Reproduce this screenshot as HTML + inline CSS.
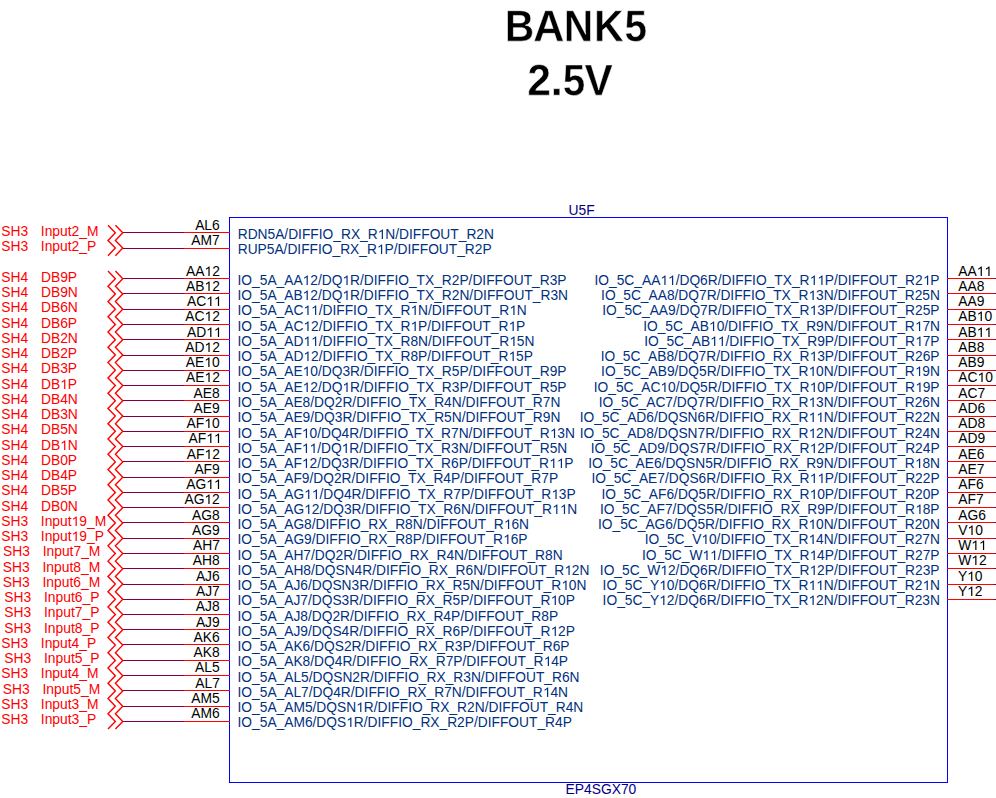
<!DOCTYPE html><html><head><meta charset="utf-8"><title>BANK5</title><style>html,body{margin:0;padding:0;background:#fff}svg{display:block}text{font-family:"Liberation Sans",sans-serif;white-space:pre;font-kerning:none;font-feature-settings:"kern" 0}</style></head><body>
<svg width="996" height="798" viewBox="0 0 996 798">
<g fill="#000" stroke="#fff" stroke-width="0.6"><path vector-effect="non-scaling-stroke" transform="translate(504.769,41.150) scale(0.019936,-0.021611)" d="M1386 402Q1386 210 1242.0 105.0Q1098 0 842 0H137V1409H782Q1040 1409 1172.5 1319.5Q1305 1230 1305 1055Q1305 935 1238.5 852.5Q1172 770 1036 741Q1207 721 1296.5 633.5Q1386 546 1386 402ZM1008 1015Q1008 1110 947.5 1150.0Q887 1190 768 1190H432V841H770Q895 841 951.5 884.5Q1008 928 1008 1015ZM1090 425Q1090 623 806 623H432V219H817Q959 219 1024.5 270.5Q1090 322 1090 425Z"/><path vector-effect="non-scaling-stroke" transform="translate(533.120,41.150) scale(0.021179,-0.021611)" d="M1133 0 1008 360H471L346 0H51L565 1409H913L1425 0ZM739 1192 733 1170Q723 1134 709.0 1088.0Q695 1042 537 582H942L803 987L760 1123Z"/><path vector-effect="non-scaling-stroke" transform="translate(563.769,41.150) scale(0.019934,-0.021611)" d="M995 0 381 1085Q399 927 399 831V0H137V1409H474L1097 315Q1079 466 1079 590V1409H1341V0Z"/><path vector-effect="non-scaling-stroke" transform="translate(593.946,41.150) scale(0.020106,-0.021611)" d="M1112 0 606 647 432 514V0H137V1409H432V770L1067 1409H1411L809 813L1460 0Z"/><path vector-effect="non-scaling-stroke" transform="translate(624.451,41.150) scale(0.019823,-0.021611)" d="M1082 469Q1082 245 942.5 112.5Q803 -20 560 -20Q348 -20 220.5 75.5Q93 171 63 352L344 375Q366 285 422.0 244.0Q478 203 563 203Q668 203 730.5 270.0Q793 337 793 463Q793 574 734.0 640.5Q675 707 569 707Q452 707 378 616H104L153 1409H1000V1200H408L385 844Q487 934 640 934Q841 934 961.5 809.0Q1082 684 1082 469Z"/></g>
<g fill="#000" stroke="#fff" stroke-width="0.6"><path vector-effect="non-scaling-stroke" transform="translate(527.267,95.200) scale(0.020892,-0.021469)" d="M71 0V195Q126 316 227.5 431.0Q329 546 483 671Q631 791 690.5 869.0Q750 947 750 1022Q750 1206 565 1206Q475 1206 427.5 1157.5Q380 1109 366 1012L83 1028Q107 1224 229.5 1327.0Q352 1430 563 1430Q791 1430 913.0 1326.0Q1035 1222 1035 1034Q1035 935 996.0 855.0Q957 775 896.0 707.5Q835 640 760.5 581.0Q686 522 616.0 466.0Q546 410 488.5 353.0Q431 296 403 231H1057V0Z"/><path vector-effect="non-scaling-stroke" transform="translate(550.470,95.200) scale(0.021799,-0.021469)" d="M139 0V305H428V0Z"/><path vector-effect="non-scaling-stroke" transform="translate(562.757,95.200) scale(0.019725,-0.021469)" d="M1082 469Q1082 245 942.5 112.5Q803 -20 560 -20Q348 -20 220.5 75.5Q93 171 63 352L344 375Q366 285 422.0 244.0Q478 203 563 203Q668 203 730.5 270.0Q793 337 793 463Q793 574 734.0 640.5Q675 707 569 707Q452 707 378 616H104L153 1409H1000V1200H408L385 844Q487 934 640 934Q841 934 961.5 809.0Q1082 684 1082 469Z"/><path vector-effect="non-scaling-stroke" transform="translate(584.510,95.200) scale(0.020703,-0.021469)" d="M834 0H535L14 1409H322L612 504Q639 416 686 238L707 324L758 504L1047 1409H1352Z"/></g>
<text x="568.5" y="214.8" font-size="13.85" fill="#000080">U5F</text>
<text x="565.5" y="793.9" font-size="13.85" fill="#000080">EP4SGX70</text>
<g shape-rendering="crispEdges"><rect x="229" y="217" width="719" height="1" fill="#0000ff"/><rect x="229" y="782" width="719" height="1" fill="#0000ff"/><rect x="229" y="217" width="1" height="566" fill="#0000ff"/><rect x="947" y="217" width="1" height="566" fill="#0000ff"/><rect x="123" y="232" width="61" height="1" fill="#800040"/><rect x="184" y="232" width="46" height="1" fill="#ff0000"/><rect x="123" y="248" width="61" height="1" fill="#800040"/><rect x="184" y="248" width="46" height="1" fill="#ff0000"/><rect x="123" y="278" width="61" height="1" fill="#800040"/><rect x="184" y="278" width="46" height="1" fill="#ff0000"/><rect x="123" y="293" width="61" height="1" fill="#800040"/><rect x="184" y="293" width="46" height="1" fill="#ff0000"/><rect x="123" y="309" width="61" height="1" fill="#800040"/><rect x="184" y="309" width="46" height="1" fill="#ff0000"/><rect x="123" y="324" width="61" height="1" fill="#800040"/><rect x="184" y="324" width="46" height="1" fill="#ff0000"/><rect x="123" y="339" width="61" height="1" fill="#800040"/><rect x="184" y="339" width="46" height="1" fill="#ff0000"/><rect x="123" y="355" width="61" height="1" fill="#800040"/><rect x="184" y="355" width="46" height="1" fill="#ff0000"/><rect x="123" y="370" width="61" height="1" fill="#800040"/><rect x="184" y="370" width="46" height="1" fill="#ff0000"/><rect x="123" y="385" width="61" height="1" fill="#800040"/><rect x="184" y="385" width="46" height="1" fill="#ff0000"/><rect x="123" y="400" width="61" height="1" fill="#800040"/><rect x="184" y="400" width="46" height="1" fill="#ff0000"/><rect x="123" y="416" width="61" height="1" fill="#800040"/><rect x="184" y="416" width="46" height="1" fill="#ff0000"/><rect x="123" y="431" width="61" height="1" fill="#800040"/><rect x="184" y="431" width="46" height="1" fill="#ff0000"/><rect x="123" y="446" width="61" height="1" fill="#800040"/><rect x="184" y="446" width="46" height="1" fill="#ff0000"/><rect x="123" y="461" width="61" height="1" fill="#800040"/><rect x="184" y="461" width="46" height="1" fill="#ff0000"/><rect x="123" y="477" width="61" height="1" fill="#800040"/><rect x="184" y="477" width="46" height="1" fill="#ff0000"/><rect x="123" y="492" width="61" height="1" fill="#800040"/><rect x="184" y="492" width="46" height="1" fill="#ff0000"/><rect x="123" y="507" width="61" height="1" fill="#800040"/><rect x="184" y="507" width="46" height="1" fill="#ff0000"/><rect x="123" y="522" width="61" height="1" fill="#800040"/><rect x="184" y="522" width="46" height="1" fill="#ff0000"/><rect x="123" y="538" width="61" height="1" fill="#800040"/><rect x="184" y="538" width="46" height="1" fill="#ff0000"/><rect x="123" y="553" width="61" height="1" fill="#800040"/><rect x="184" y="553" width="46" height="1" fill="#ff0000"/><rect x="123" y="568" width="61" height="1" fill="#800040"/><rect x="184" y="568" width="46" height="1" fill="#ff0000"/><rect x="123" y="584" width="61" height="1" fill="#800040"/><rect x="184" y="584" width="46" height="1" fill="#ff0000"/><rect x="123" y="599" width="61" height="1" fill="#800040"/><rect x="184" y="599" width="46" height="1" fill="#ff0000"/><rect x="123" y="614" width="61" height="1" fill="#800040"/><rect x="184" y="614" width="46" height="1" fill="#ff0000"/><rect x="123" y="629" width="61" height="1" fill="#800040"/><rect x="184" y="629" width="46" height="1" fill="#ff0000"/><rect x="123" y="644" width="61" height="1" fill="#800040"/><rect x="184" y="644" width="46" height="1" fill="#ff0000"/><rect x="123" y="660" width="61" height="1" fill="#800040"/><rect x="184" y="660" width="46" height="1" fill="#ff0000"/><rect x="123" y="675" width="61" height="1" fill="#800040"/><rect x="184" y="675" width="46" height="1" fill="#ff0000"/><rect x="123" y="690" width="61" height="1" fill="#800040"/><rect x="184" y="690" width="46" height="1" fill="#ff0000"/><rect x="123" y="706" width="61" height="1" fill="#800040"/><rect x="184" y="706" width="46" height="1" fill="#ff0000"/><rect x="123" y="721" width="61" height="1" fill="#800040"/><rect x="184" y="721" width="46" height="1" fill="#ff0000"/><rect x="947" y="278" width="47" height="1" fill="#ff0000"/><rect x="994" y="278" width="2" height="1" fill="#800040"/><rect x="947" y="293" width="47" height="1" fill="#ff0000"/><rect x="994" y="293" width="2" height="1" fill="#800040"/><rect x="947" y="309" width="47" height="1" fill="#ff0000"/><rect x="994" y="309" width="2" height="1" fill="#800040"/><rect x="947" y="324" width="47" height="1" fill="#ff0000"/><rect x="994" y="324" width="2" height="1" fill="#800040"/><rect x="947" y="339" width="47" height="1" fill="#ff0000"/><rect x="994" y="339" width="2" height="1" fill="#800040"/><rect x="947" y="355" width="47" height="1" fill="#ff0000"/><rect x="994" y="355" width="2" height="1" fill="#800040"/><rect x="947" y="370" width="47" height="1" fill="#ff0000"/><rect x="994" y="370" width="2" height="1" fill="#800040"/><rect x="947" y="385" width="47" height="1" fill="#ff0000"/><rect x="994" y="385" width="2" height="1" fill="#800040"/><rect x="947" y="400" width="47" height="1" fill="#ff0000"/><rect x="994" y="400" width="2" height="1" fill="#800040"/><rect x="947" y="416" width="47" height="1" fill="#ff0000"/><rect x="994" y="416" width="2" height="1" fill="#800040"/><rect x="947" y="431" width="47" height="1" fill="#ff0000"/><rect x="994" y="431" width="2" height="1" fill="#800040"/><rect x="947" y="446" width="47" height="1" fill="#ff0000"/><rect x="994" y="446" width="2" height="1" fill="#800040"/><rect x="947" y="461" width="47" height="1" fill="#ff0000"/><rect x="994" y="461" width="2" height="1" fill="#800040"/><rect x="947" y="477" width="47" height="1" fill="#ff0000"/><rect x="994" y="477" width="2" height="1" fill="#800040"/><rect x="947" y="492" width="47" height="1" fill="#ff0000"/><rect x="994" y="492" width="2" height="1" fill="#800040"/><rect x="947" y="507" width="47" height="1" fill="#ff0000"/><rect x="994" y="507" width="2" height="1" fill="#800040"/><rect x="947" y="522" width="47" height="1" fill="#ff0000"/><rect x="994" y="522" width="2" height="1" fill="#800040"/><rect x="947" y="538" width="47" height="1" fill="#ff0000"/><rect x="994" y="538" width="2" height="1" fill="#800040"/><rect x="947" y="553" width="47" height="1" fill="#ff0000"/><rect x="994" y="553" width="2" height="1" fill="#800040"/><rect x="947" y="568" width="47" height="1" fill="#ff0000"/><rect x="994" y="568" width="2" height="1" fill="#800040"/><rect x="947" y="584" width="47" height="1" fill="#ff0000"/><rect x="994" y="584" width="2" height="1" fill="#800040"/><rect x="947" y="599" width="47" height="1" fill="#ff0000"/><rect x="994" y="599" width="2" height="1" fill="#800040"/></g>
<polyline points="108.00,225.20 115.35,232.83 108.00,240.47 115.35,248.10 108.00,255.74" fill="none" stroke="#ff0000" stroke-width="1.4" stroke-linejoin="miter"/>
<polyline points="115.40,225.20 122.75,232.83 115.40,240.47 122.75,248.10 115.40,255.74" fill="none" stroke="#ff0000" stroke-width="1.4" stroke-linejoin="miter"/>
<polyline points="108.00,271.00 115.35,278.64 108.00,286.27 115.35,293.91 108.00,301.55 115.35,309.18 108.00,316.81 115.35,324.45 108.00,332.09 115.35,339.72 108.00,347.36 115.35,354.99 108.00,362.62 115.35,370.26 108.00,377.89 115.35,385.53 108.00,393.16 115.35,400.80 108.00,408.44 115.35,416.07 108.00,423.71 115.35,431.34 108.00,438.98 115.35,446.61 108.00,454.25 115.35,461.88 108.00,469.51 115.35,477.15 108.00,484.78 115.35,492.42 108.00,500.05 115.35,507.69 108.00,515.33 115.35,522.96 108.00,530.60 115.35,538.23 108.00,545.87 115.35,553.50 108.00,561.13 115.35,568.77 108.00,576.40 115.35,584.04 108.00,591.67 115.35,599.31 108.00,606.95 115.35,614.58 108.00,622.22 115.35,629.85 108.00,637.49 115.35,645.12 108.00,652.75 115.35,660.39 108.00,668.02 115.35,675.66 108.00,683.29 115.35,690.93 108.00,698.56 115.35,706.20 108.00,713.84 115.35,721.47 108.00,729.11" fill="none" stroke="#ff0000" stroke-width="1.4" stroke-linejoin="miter"/>
<polyline points="115.40,271.00 122.75,278.64 115.40,286.27 122.75,293.91 115.40,301.55 122.75,309.18 115.40,316.81 122.75,324.45 115.40,332.09 122.75,339.72 115.40,347.36 122.75,354.99 115.40,362.62 122.75,370.26 115.40,377.89 122.75,385.53 115.40,393.16 122.75,400.80 115.40,408.44 122.75,416.07 115.40,423.71 122.75,431.34 115.40,438.98 122.75,446.61 115.40,454.25 122.75,461.88 115.40,469.51 122.75,477.15 115.40,484.78 122.75,492.42 115.40,500.05 122.75,507.69 115.40,515.33 122.75,522.96 115.40,530.60 122.75,538.23 115.40,545.87 122.75,553.50 115.40,561.13 122.75,568.77 115.40,576.40 122.75,584.04 115.40,591.67 122.75,599.31 115.40,606.95 122.75,614.58 115.40,622.22 122.75,629.85 115.40,637.49 122.75,645.12 115.40,652.75 122.75,660.39 115.40,668.02 122.75,675.66 115.40,683.29 122.75,690.93 115.40,698.56 122.75,706.20 115.40,713.84 122.75,721.47 115.40,729.11" fill="none" stroke="#ff0000" stroke-width="1.4" stroke-linejoin="miter"/>
<text x="237.70" y="239" font-size="13.78" fill="#003080">RDN5A/DIFFIO_RX_R N/DIFFOUT_R2N</text><path d="M763,0L583,0L583,1147C530,1097 440,1030 223,930L223,1104C420,1195 560,1310 643,1409L763,1409Z" transform="translate(377.82,239) scale(0.006729,-0.006729)" fill="#003080"/><text x="195.14" y="230" font-size="13.85" fill="#000">AL6</text><text x="237.70" y="254" font-size="13.78" fill="#003080">RUP5A/DIFFIO_RX_R P/DIFFOUT_R2P</text><path d="M763,0L583,0L583,1147C530,1097 440,1030 223,930L223,1104C420,1195 560,1310 643,1409L763,1409Z" transform="translate(377.06,254) scale(0.006729,-0.006729)" fill="#003080"/><text x="191.33" y="245" font-size="13.85" fill="#000">AM7</text><text x="237.56" y="285" font-size="13.78" fill="#003080">IO_5A_AA 2/DQ R/DIFFIO_TX_R2P/DIFFOUT_R3P</text><path d="M763,0L583,0L583,1147C530,1097 440,1030 223,930L223,1104C420,1195 560,1310 643,1409L763,1409Z" transform="translate(302.67,285) scale(0.006729,-0.006729)" fill="#003080"/><path d="M763,0L583,0L583,1147C530,1097 440,1030 223,930L223,1104C420,1195 560,1310 643,1409L763,1409Z" transform="translate(342.50,285) scale(0.006729,-0.006729)" fill="#003080"/><text x="186.00" y="276" font-size="13.85" fill="#000">AA 2</text><path d="M763,0L583,0L583,1147C530,1097 440,1030 223,930L223,1104C420,1195 560,1310 643,1409L763,1409Z" transform="translate(204.47,276) scale(0.006763,-0.006763)" fill="#000"/><text x="237.56" y="300" font-size="13.78" fill="#003080">IO_5A_AB 2/DQ R/DIFFIO_TX_R2N/DIFFOUT_R3N</text><path d="M763,0L583,0L583,1147C530,1097 440,1030 223,930L223,1104C420,1195 560,1310 643,1409L763,1409Z" transform="translate(302.67,300) scale(0.006729,-0.006729)" fill="#003080"/><path d="M763,0L583,0L583,1147C530,1097 440,1030 223,930L223,1104C420,1195 560,1310 643,1409L763,1409Z" transform="translate(342.50,300) scale(0.006729,-0.006729)" fill="#003080"/><text x="186.00" y="291" font-size="13.85" fill="#000">AB 2</text><path d="M763,0L583,0L583,1147C530,1097 440,1030 223,930L223,1104C420,1195 560,1310 643,1409L763,1409Z" transform="translate(204.47,291) scale(0.006763,-0.006763)" fill="#000"/><text x="237.56" y="315" font-size="13.78" fill="#003080">IO_5A_AC  /DIFFIO_TX_R N/DIFFOUT_R N</text><path d="M763,0L583,0L583,1147C530,1097 440,1030 223,930L223,1104C420,1195 560,1310 643,1409L763,1409Z" transform="translate(303.43,315) scale(0.006729,-0.006729)" fill="#003080"/><path d="M763,0L583,0L583,1147C530,1097 440,1030 223,930L223,1104C420,1195 560,1310 643,1409L763,1409Z" transform="translate(311.10,315) scale(0.006729,-0.006729)" fill="#003080"/><path d="M763,0L583,0L583,1147C530,1097 440,1030 223,930L223,1104C420,1195 560,1310 643,1409L763,1409Z" transform="translate(410.64,315) scale(0.006729,-0.006729)" fill="#003080"/><path d="M763,0L583,0L583,1147C530,1097 440,1030 223,930L223,1104C420,1195 560,1310 643,1409L763,1409Z" transform="translate(509.40,315) scale(0.006729,-0.006729)" fill="#003080"/><text x="187.00" y="306" font-size="13.85" fill="#000">AC  </text><path d="M763,0L583,0L583,1147C530,1097 440,1030 223,930L223,1104C420,1195 560,1310 643,1409L763,1409Z" transform="translate(206.24,306) scale(0.006763,-0.006763)" fill="#000"/><path d="M763,0L583,0L583,1147C530,1097 440,1030 223,930L223,1104C420,1195 560,1310 643,1409L763,1409Z" transform="translate(213.94,306) scale(0.006763,-0.006763)" fill="#000"/><text x="237.56" y="331" font-size="13.78" fill="#003080">IO_5A_AC 2/DIFFIO_TX_R P/DIFFOUT_R P</text><path d="M763,0L583,0L583,1147C530,1097 440,1030 223,930L223,1104C420,1195 560,1310 643,1409L763,1409Z" transform="translate(303.43,331) scale(0.006729,-0.006729)" fill="#003080"/><path d="M763,0L583,0L583,1147C530,1097 440,1030 223,930L223,1104C420,1195 560,1310 643,1409L763,1409Z" transform="translate(410.64,331) scale(0.006729,-0.006729)" fill="#003080"/><path d="M763,0L583,0L583,1147C530,1097 440,1030 223,930L223,1104C420,1195 560,1310 643,1409L763,1409Z" transform="translate(508.64,331) scale(0.006729,-0.006729)" fill="#003080"/><text x="185.24" y="321" font-size="13.85" fill="#000">AC 2</text><path d="M763,0L583,0L583,1147C530,1097 440,1030 223,930L223,1104C420,1195 560,1310 643,1409L763,1409Z" transform="translate(204.48,321) scale(0.006763,-0.006763)" fill="#000"/><text x="237.56" y="346" font-size="13.78" fill="#003080">IO_5A_AD  /DIFFIO_TX_R8N/DIFFOUT_R 5N</text><path d="M763,0L583,0L583,1147C530,1097 440,1030 223,930L223,1104C420,1195 560,1310 643,1409L763,1409Z" transform="translate(303.43,346) scale(0.006729,-0.006729)" fill="#003080"/><path d="M763,0L583,0L583,1147C530,1097 440,1030 223,930L223,1104C420,1195 560,1310 643,1409L763,1409Z" transform="translate(311.10,346) scale(0.006729,-0.006729)" fill="#003080"/><path d="M763,0L583,0L583,1147C530,1097 440,1030 223,930L223,1104C420,1195 560,1310 643,1409L763,1409Z" transform="translate(509.40,346) scale(0.006729,-0.006729)" fill="#003080"/><text x="187.00" y="337" font-size="13.85" fill="#000">AD  </text><path d="M763,0L583,0L583,1147C530,1097 440,1030 223,930L223,1104C420,1195 560,1310 643,1409L763,1409Z" transform="translate(206.24,337) scale(0.006763,-0.006763)" fill="#000"/><path d="M763,0L583,0L583,1147C530,1097 440,1030 223,930L223,1104C420,1195 560,1310 643,1409L763,1409Z" transform="translate(213.94,337) scale(0.006763,-0.006763)" fill="#000"/><text x="237.56" y="361" font-size="13.78" fill="#003080">IO_5A_AD 2/DIFFIO_TX_R8P/DIFFOUT_R 5P</text><path d="M763,0L583,0L583,1147C530,1097 440,1030 223,930L223,1104C420,1195 560,1310 643,1409L763,1409Z" transform="translate(303.43,361) scale(0.006729,-0.006729)" fill="#003080"/><path d="M763,0L583,0L583,1147C530,1097 440,1030 223,930L223,1104C420,1195 560,1310 643,1409L763,1409Z" transform="translate(508.64,361) scale(0.006729,-0.006729)" fill="#003080"/><text x="185.24" y="352" font-size="13.85" fill="#000">AD 2</text><path d="M763,0L583,0L583,1147C530,1097 440,1030 223,930L223,1104C420,1195 560,1310 643,1409L763,1409Z" transform="translate(204.48,352) scale(0.006763,-0.006763)" fill="#000"/><text x="237.56" y="376" font-size="13.78" fill="#003080">IO_5A_AE 0/DQ3R/DIFFIO_TX_R5P/DIFFOUT_R9P</text><path d="M763,0L583,0L583,1147C530,1097 440,1030 223,930L223,1104C420,1195 560,1310 643,1409L763,1409Z" transform="translate(302.67,376) scale(0.006729,-0.006729)" fill="#003080"/><text x="185.86" y="367" font-size="13.85" fill="#000">AE 0</text><path d="M763,0L583,0L583,1147C530,1097 440,1030 223,930L223,1104C420,1195 560,1310 643,1409L763,1409Z" transform="translate(204.34,367) scale(0.006763,-0.006763)" fill="#000"/><text x="237.56" y="392" font-size="13.78" fill="#003080">IO_5A_AE 2/DQ R/DIFFIO_TX_R3P/DIFFOUT_R5P</text><path d="M763,0L583,0L583,1147C530,1097 440,1030 223,930L223,1104C420,1195 560,1310 643,1409L763,1409Z" transform="translate(302.67,392) scale(0.006729,-0.006729)" fill="#003080"/><path d="M763,0L583,0L583,1147C530,1097 440,1030 223,930L223,1104C420,1195 560,1310 643,1409L763,1409Z" transform="translate(342.50,392) scale(0.006729,-0.006729)" fill="#003080"/><text x="186.00" y="382" font-size="13.85" fill="#000">AE 2</text><path d="M763,0L583,0L583,1147C530,1097 440,1030 223,930L223,1104C420,1195 560,1310 643,1409L763,1409Z" transform="translate(204.47,382) scale(0.006763,-0.006763)" fill="#000"/><text x="237.56" y="407" font-size="13.78" fill="#003080">IO_5A_AE8/DQ2R/DIFFIO_TX_R4N/DIFFOUT_R7N</text><text x="193.55" y="398" font-size="13.85" fill="#000">AE8</text><text x="237.56" y="422" font-size="13.78" fill="#003080">IO_5A_AE9/DQ3R/DIFFIO_TX_R5N/DIFFOUT_R9N</text><text x="193.62" y="413" font-size="13.85" fill="#000">AE9</text><text x="237.56" y="438" font-size="13.78" fill="#003080">IO_5A_AF 0/DQ4R/DIFFIO_TX_R7N/DIFFOUT_R 3N</text><path d="M763,0L583,0L583,1147C530,1097 440,1030 223,930L223,1104C420,1195 560,1310 643,1409L763,1409Z" transform="translate(301.90,438) scale(0.006729,-0.006729)" fill="#003080"/><path d="M763,0L583,0L583,1147C530,1097 440,1030 223,930L223,1104C420,1195 560,1310 643,1409L763,1409Z" transform="translate(549.98,438) scale(0.006729,-0.006729)" fill="#003080"/><text x="186.62" y="428" font-size="13.85" fill="#000">AF 0</text><path d="M763,0L583,0L583,1147C530,1097 440,1030 223,930L223,1104C420,1195 560,1310 643,1409L763,1409Z" transform="translate(204.32,428) scale(0.006763,-0.006763)" fill="#000"/><text x="237.56" y="453" font-size="13.78" fill="#003080">IO_5A_AF  /DQ R/DIFFIO_TX_R3N/DIFFOUT_R5N</text><path d="M763,0L583,0L583,1147C530,1097 440,1030 223,930L223,1104C420,1195 560,1310 643,1409L763,1409Z" transform="translate(301.90,453) scale(0.006729,-0.006729)" fill="#003080"/><path d="M763,0L583,0L583,1147C530,1097 440,1030 223,930L223,1104C420,1195 560,1310 643,1409L763,1409Z" transform="translate(309.56,453) scale(0.006729,-0.006729)" fill="#003080"/><path d="M763,0L583,0L583,1147C530,1097 440,1030 223,930L223,1104C420,1195 560,1310 643,1409L763,1409Z" transform="translate(341.72,453) scale(0.006729,-0.006729)" fill="#003080"/><text x="188.54" y="443" font-size="13.85" fill="#000">AF  </text><path d="M763,0L583,0L583,1147C530,1097 440,1030 223,930L223,1104C420,1195 560,1310 643,1409L763,1409Z" transform="translate(206.24,443) scale(0.006763,-0.006763)" fill="#000"/><path d="M763,0L583,0L583,1147C530,1097 440,1030 223,930L223,1104C420,1195 560,1310 643,1409L763,1409Z" transform="translate(213.94,443) scale(0.006763,-0.006763)" fill="#000"/><text x="237.56" y="468" font-size="13.78" fill="#003080">IO_5A_AF 2/DQ3R/DIFFIO_TX_R6P/DIFFOUT_R  P</text><path d="M763,0L583,0L583,1147C530,1097 440,1030 223,930L223,1104C420,1195 560,1310 643,1409L763,1409Z" transform="translate(301.90,468) scale(0.006729,-0.006729)" fill="#003080"/><path d="M763,0L583,0L583,1147C530,1097 440,1030 223,930L223,1104C420,1195 560,1310 643,1409L763,1409Z" transform="translate(549.22,468) scale(0.006729,-0.006729)" fill="#003080"/><path d="M763,0L583,0L583,1147C530,1097 440,1030 223,930L223,1104C420,1195 560,1310 643,1409L763,1409Z" transform="translate(556.88,468) scale(0.006729,-0.006729)" fill="#003080"/><text x="186.76" y="459" font-size="13.85" fill="#000">AF 2</text><path d="M763,0L583,0L583,1147C530,1097 440,1030 223,930L223,1104C420,1195 560,1310 643,1409L763,1409Z" transform="translate(204.46,459) scale(0.006763,-0.006763)" fill="#000"/><text x="237.56" y="483" font-size="13.78" fill="#003080">IO_5A_AF9/DQ2R/DIFFIO_TX_R4P/DIFFOUT_R7P</text><text x="194.38" y="474" font-size="13.85" fill="#000">AF9</text><text x="237.56" y="499" font-size="13.78" fill="#003080">IO_5A_AG  /DQ4R/DIFFIO_TX_R7P/DIFFOUT_R 3P</text><path d="M763,0L583,0L583,1147C530,1097 440,1030 223,930L223,1104C420,1195 560,1310 643,1409L763,1409Z" transform="translate(304.20,499) scale(0.006729,-0.006729)" fill="#003080"/><path d="M763,0L583,0L583,1147C530,1097 440,1030 223,930L223,1104C420,1195 560,1310 643,1409L763,1409Z" transform="translate(311.86,499) scale(0.006729,-0.006729)" fill="#003080"/><path d="M763,0L583,0L583,1147C530,1097 440,1030 223,930L223,1104C420,1195 560,1310 643,1409L763,1409Z" transform="translate(551.52,499) scale(0.006729,-0.006729)" fill="#003080"/><text x="186.23" y="489" font-size="13.85" fill="#000">AG  </text><path d="M763,0L583,0L583,1147C530,1097 440,1030 223,930L223,1104C420,1195 560,1310 643,1409L763,1409Z" transform="translate(206.24,489) scale(0.006763,-0.006763)" fill="#000"/><path d="M763,0L583,0L583,1147C530,1097 440,1030 223,930L223,1104C420,1195 560,1310 643,1409L763,1409Z" transform="translate(213.94,489) scale(0.006763,-0.006763)" fill="#000"/><text x="237.56" y="514" font-size="13.78" fill="#003080">IO_5A_AG 2/DQ3R/DIFFIO_TX_R6N/DIFFOUT_R  N</text><path d="M763,0L583,0L583,1147C530,1097 440,1030 223,930L223,1104C420,1195 560,1310 643,1409L763,1409Z" transform="translate(304.20,514) scale(0.006729,-0.006729)" fill="#003080"/><path d="M763,0L583,0L583,1147C530,1097 440,1030 223,930L223,1104C420,1195 560,1310 643,1409L763,1409Z" transform="translate(552.28,514) scale(0.006729,-0.006729)" fill="#003080"/><path d="M763,0L583,0L583,1147C530,1097 440,1030 223,930L223,1104C420,1195 560,1310 643,1409L763,1409Z" transform="translate(559.94,514) scale(0.006729,-0.006729)" fill="#003080"/><text x="184.41" y="504" font-size="13.85" fill="#000">AG 2</text><path d="M763,0L583,0L583,1147C530,1097 440,1030 223,930L223,1104C420,1195 560,1310 643,1409L763,1409Z" transform="translate(204.42,504) scale(0.006763,-0.006763)" fill="#000"/><text x="237.56" y="529" font-size="13.78" fill="#003080">IO_5A_AG8/DIFFIO_RX_R8N/DIFFOUT_R 6N</text><path d="M763,0L583,0L583,1147C530,1097 440,1030 223,930L223,1104C420,1195 560,1310 643,1409L763,1409Z" transform="translate(504.04,529) scale(0.006729,-0.006729)" fill="#003080"/><text x="191.95" y="520" font-size="13.85" fill="#000">AG8</text><text x="237.56" y="544" font-size="13.78" fill="#003080">IO_5A_AG9/DIFFIO_RX_R8P/DIFFOUT_R 6P</text><path d="M763,0L583,0L583,1147C530,1097 440,1030 223,930L223,1104C420,1195 560,1310 643,1409L763,1409Z" transform="translate(503.28,544) scale(0.006729,-0.006729)" fill="#003080"/><text x="192.02" y="535" font-size="13.85" fill="#000">AG9</text><text x="237.56" y="560" font-size="13.78" fill="#003080">IO_5A_AH7/DQ2R/DIFFIO_RX_R4N/DIFFOUT_R8N</text><text x="192.92" y="550" font-size="13.85" fill="#000">AH7</text><text x="237.56" y="575" font-size="13.78" fill="#003080">IO_5A_AH8/DQSN4R/DIFFIO_RX_R6N/DIFFOUT_R 2N</text><path d="M763,0L583,0L583,1147C530,1097 440,1030 223,930L223,1104C420,1195 560,1310 643,1409L763,1409Z" transform="translate(564.53,575) scale(0.006729,-0.006729)" fill="#003080"/><text x="192.78" y="565" font-size="13.85" fill="#000">AH8</text><text x="237.56" y="590" font-size="13.78" fill="#003080">IO_5A_AJ6/DQSN3R/DIFFIO_RX_R5N/DIFFOUT_R 0N</text><path d="M763,0L583,0L583,1147C530,1097 440,1030 223,930L223,1104C420,1195 560,1310 643,1409L763,1409Z" transform="translate(561.46,590) scale(0.006729,-0.006729)" fill="#003080"/><text x="195.90" y="581" font-size="13.85" fill="#000">AJ6</text><text x="237.56" y="605" font-size="13.78" fill="#003080">IO_5A_AJ7/DQS3R/DIFFIO_RX_R5P/DIFFOUT_R 0P</text><path d="M763,0L583,0L583,1147C530,1097 440,1030 223,930L223,1104C420,1195 560,1310 643,1409L763,1409Z" transform="translate(550.75,605) scale(0.006729,-0.006729)" fill="#003080"/><text x="195.97" y="596" font-size="13.85" fill="#000">AJ7</text><text x="237.56" y="621" font-size="13.78" fill="#003080">IO_5A_AJ8/DQ2R/DIFFIO_RX_R4P/DIFFOUT_R8P</text><text x="195.83" y="611" font-size="13.85" fill="#000">AJ8</text><text x="237.56" y="636" font-size="13.78" fill="#003080">IO_5A_AJ9/DQS4R/DIFFIO_RX_R6P/DIFFOUT_R 2P</text><path d="M763,0L583,0L583,1147C530,1097 440,1030 223,930L223,1104C420,1195 560,1310 643,1409L763,1409Z" transform="translate(550.75,636) scale(0.006729,-0.006729)" fill="#003080"/><text x="195.90" y="627" font-size="13.85" fill="#000">AJ9</text><text x="237.56" y="651" font-size="13.78" fill="#003080">IO_5A_AK6/DQS2R/DIFFIO_RX_R3P/DIFFOUT_R6P</text><text x="193.62" y="642" font-size="13.85" fill="#000">AK6</text><text x="237.56" y="666" font-size="13.78" fill="#003080">IO_5A_AK8/DQ4R/DIFFIO_RX_R7P/DIFFOUT_R 4P</text><path d="M763,0L583,0L583,1147C530,1097 440,1030 223,930L223,1104C420,1195 560,1310 643,1409L763,1409Z" transform="translate(543.86,666) scale(0.006729,-0.006729)" fill="#003080"/><text x="193.55" y="657" font-size="13.85" fill="#000">AK8</text><text x="237.56" y="682" font-size="13.78" fill="#003080">IO_5A_AL5/DQSN2R/DIFFIO_RX_R3N/DIFFOUT_R6N</text><text x="195.07" y="672" font-size="13.85" fill="#000">AL5</text><text x="237.56" y="697" font-size="13.78" fill="#003080">IO_5A_AL7/DQ4R/DIFFIO_RX_R7N/DIFFOUT_R 4N</text><path d="M763,0L583,0L583,1147C530,1097 440,1030 223,930L223,1104C420,1195 560,1310 643,1409L763,1409Z" transform="translate(543.09,697) scale(0.006729,-0.006729)" fill="#003080"/><text x="195.21" y="688" font-size="13.85" fill="#000">AL7</text><text x="237.56" y="712" font-size="13.78" fill="#003080">IO_5A_AM5/DQSN R/DIFFIO_RX_R2N/DIFFOUT_R4N</text><path d="M763,0L583,0L583,1147C530,1097 440,1030 223,930L223,1104C420,1195 560,1310 643,1409L763,1409Z" transform="translate(356.26,712) scale(0.006729,-0.006729)" fill="#003080"/><text x="191.19" y="703" font-size="13.85" fill="#000">AM5</text><text x="237.56" y="727" font-size="13.78" fill="#003080">IO_5A_AM6/DQS R/DIFFIO_RX_R2P/DIFFOUT_R4P</text><path d="M763,0L583,0L583,1147C530,1097 440,1030 223,930L223,1104C420,1195 560,1310 643,1409L763,1409Z" transform="translate(346.31,727) scale(0.006729,-0.006729)" fill="#003080"/><text x="191.26" y="718" font-size="13.85" fill="#000">AM6</text><text x="1.18" y="236" font-size="13.85" fill="#ff0000">SH3</text><text x="40.80" y="236" font-size="13.85" fill="#ff0000">Input2_M</text><text x="1.18" y="251" font-size="13.85" fill="#ff0000">SH3</text><text x="40.80" y="251" font-size="13.85" fill="#ff0000">Input2_P</text><text x="1.18" y="282" font-size="13.85" fill="#ff0000">SH4</text><text x="40.94" y="282" font-size="13.85" fill="#ff0000">DB9P</text><text x="1.18" y="297" font-size="13.85" fill="#ff0000">SH4</text><text x="40.94" y="297" font-size="13.85" fill="#ff0000">DB9N</text><text x="1.18" y="312" font-size="13.85" fill="#ff0000">SH4</text><text x="40.94" y="312" font-size="13.85" fill="#ff0000">DB6N</text><text x="1.18" y="328" font-size="13.85" fill="#ff0000">SH4</text><text x="40.94" y="328" font-size="13.85" fill="#ff0000">DB6P</text><text x="1.18" y="343" font-size="13.85" fill="#ff0000">SH4</text><text x="40.94" y="343" font-size="13.85" fill="#ff0000">DB2N</text><text x="1.18" y="358" font-size="13.85" fill="#ff0000">SH4</text><text x="40.94" y="358" font-size="13.85" fill="#ff0000">DB2P</text><text x="1.18" y="373" font-size="13.85" fill="#ff0000">SH4</text><text x="40.94" y="373" font-size="13.85" fill="#ff0000">DB3P</text><text x="1.18" y="389" font-size="13.85" fill="#ff0000">SH4</text><text x="40.94" y="389" font-size="13.85" fill="#ff0000">DB P</text><path d="M763,0L583,0L583,1147C530,1097 440,1030 223,930L223,1104C420,1195 560,1310 643,1409L763,1409Z" transform="translate(60.18,389) scale(0.006763,-0.006763)" fill="#ff0000"/><text x="1.18" y="404" font-size="13.85" fill="#ff0000">SH4</text><text x="40.94" y="404" font-size="13.85" fill="#ff0000">DB4N</text><text x="1.18" y="419" font-size="13.85" fill="#ff0000">SH4</text><text x="40.94" y="419" font-size="13.85" fill="#ff0000">DB3N</text><text x="1.18" y="434" font-size="13.85" fill="#ff0000">SH4</text><text x="40.94" y="434" font-size="13.85" fill="#ff0000">DB5N</text><text x="1.18" y="450" font-size="13.85" fill="#ff0000">SH4</text><text x="40.94" y="450" font-size="13.85" fill="#ff0000">DB N</text><path d="M763,0L583,0L583,1147C530,1097 440,1030 223,930L223,1104C420,1195 560,1310 643,1409L763,1409Z" transform="translate(60.18,450) scale(0.006763,-0.006763)" fill="#ff0000"/><text x="1.18" y="465" font-size="13.85" fill="#ff0000">SH4</text><text x="40.94" y="465" font-size="13.85" fill="#ff0000">DB0P</text><text x="1.18" y="480" font-size="13.85" fill="#ff0000">SH4</text><text x="40.94" y="480" font-size="13.85" fill="#ff0000">DB4P</text><text x="1.18" y="495" font-size="13.85" fill="#ff0000">SH4</text><text x="40.94" y="495" font-size="13.85" fill="#ff0000">DB5P</text><text x="1.18" y="511" font-size="13.85" fill="#ff0000">SH4</text><text x="40.94" y="511" font-size="13.85" fill="#ff0000">DB0N</text><text x="1.18" y="526" font-size="13.85" fill="#ff0000">SH3</text><text x="40.80" y="526" font-size="13.85" fill="#ff0000">Input 9_M</text><path d="M763,0L583,0L583,1147C530,1097 440,1030 223,930L223,1104C420,1195 560,1310 643,1409L763,1409Z" transform="translate(71.61,526) scale(0.006763,-0.006763)" fill="#ff0000"/><text x="1.18" y="541" font-size="13.85" fill="#ff0000">SH3</text><text x="40.80" y="541" font-size="13.85" fill="#ff0000">Input 9_P</text><path d="M763,0L583,0L583,1147C530,1097 440,1030 223,930L223,1104C420,1195 560,1310 643,1409L763,1409Z" transform="translate(71.61,541) scale(0.006763,-0.006763)" fill="#ff0000"/><text x="3.03" y="556" font-size="13.85" fill="#ff0000">SH3</text><text x="42.65" y="556" font-size="13.85" fill="#ff0000">Input7_M</text><text x="2.83" y="572" font-size="13.85" fill="#ff0000">SH3</text><text x="42.45" y="572" font-size="13.85" fill="#ff0000">Input8_M</text><text x="2.83" y="587" font-size="13.85" fill="#ff0000">SH3</text><text x="42.45" y="587" font-size="13.85" fill="#ff0000">Input6_M</text><text x="4.33" y="602" font-size="13.85" fill="#ff0000">SH3</text><text x="43.95" y="602" font-size="13.85" fill="#ff0000">Input6_P</text><text x="4.33" y="617" font-size="13.85" fill="#ff0000">SH3</text><text x="43.95" y="617" font-size="13.85" fill="#ff0000">Input7_P</text><text x="4.33" y="633" font-size="13.85" fill="#ff0000">SH3</text><text x="43.95" y="633" font-size="13.85" fill="#ff0000">Input8_P</text><text x="1.18" y="648" font-size="13.85" fill="#ff0000">SH3</text><text x="40.80" y="648" font-size="13.85" fill="#ff0000">Input4_P</text><text x="4.33" y="663" font-size="13.85" fill="#ff0000">SH3</text><text x="43.95" y="663" font-size="13.85" fill="#ff0000">Input5_P</text><text x="1.18" y="678" font-size="13.85" fill="#ff0000">SH3</text><text x="40.80" y="678" font-size="13.85" fill="#ff0000">Input4_M</text><text x="2.83" y="694" font-size="13.85" fill="#ff0000">SH3</text><text x="42.45" y="694" font-size="13.85" fill="#ff0000">Input5_M</text><text x="1.18" y="709" font-size="13.85" fill="#ff0000">SH3</text><text x="40.80" y="709" font-size="13.85" fill="#ff0000">Input3_M</text><text x="1.18" y="724" font-size="13.85" fill="#ff0000">SH3</text><text x="40.80" y="724" font-size="13.85" fill="#ff0000">Input3_P</text><text x="594.54" y="285" font-size="13.78" fill="#003080">IO_5C_AA  /DQ6R/DIFFIO_TX_R  P/DIFFOUT_R2 P</text><path d="M763,0L583,0L583,1147C530,1097 440,1030 223,930L223,1104C420,1195 560,1310 643,1409L763,1409Z" transform="translate(660.41,285) scale(0.006729,-0.006729)" fill="#003080"/><path d="M763,0L583,0L583,1147C530,1097 440,1030 223,930L223,1104C420,1195 560,1310 643,1409L763,1409Z" transform="translate(668.07,285) scale(0.006729,-0.006729)" fill="#003080"/><path d="M763,0L583,0L583,1147C530,1097 440,1030 223,930L223,1104C420,1195 560,1310 643,1409L763,1409Z" transform="translate(809.73,285) scale(0.006729,-0.006729)" fill="#003080"/><path d="M763,0L583,0L583,1147C530,1097 440,1030 223,930L223,1104C420,1195 560,1310 643,1409L763,1409Z" transform="translate(817.39,285) scale(0.006729,-0.006729)" fill="#003080"/><path d="M763,0L583,0L583,1147C530,1097 440,1030 223,930L223,1104C420,1195 560,1310 643,1409L763,1409Z" transform="translate(923.06,285) scale(0.006729,-0.006729)" fill="#003080"/><text x="958.23" y="276" font-size="13.85" fill="#000">AA  </text><path d="M763,0L583,0L583,1147C530,1097 440,1030 223,930L223,1104C420,1195 560,1310 643,1409L763,1409Z" transform="translate(976.71,276) scale(0.006763,-0.006763)" fill="#000"/><path d="M763,0L583,0L583,1147C530,1097 440,1030 223,930L223,1104C420,1195 560,1310 643,1409L763,1409Z" transform="translate(984.41,276) scale(0.006763,-0.006763)" fill="#000"/><text x="601.08" y="300" font-size="13.78" fill="#003080">IO_5C_AA8/DQ7R/DIFFIO_TX_R 3N/DIFFOUT_R25N</text><path d="M763,0L583,0L583,1147C530,1097 440,1030 223,930L223,1104C420,1195 560,1310 643,1409L763,1409Z" transform="translate(808.61,300) scale(0.006729,-0.006729)" fill="#003080"/><text x="958.23" y="291" font-size="13.85" fill="#000">AA8</text><text x="602.19" y="315" font-size="13.78" fill="#003080">IO_5C_AA9/DQ7R/DIFFIO_TX_R 3P/DIFFOUT_R25P</text><path d="M763,0L583,0L583,1147C530,1097 440,1030 223,930L223,1104C420,1195 560,1310 643,1409L763,1409Z" transform="translate(809.71,315) scale(0.006729,-0.006729)" fill="#003080"/><text x="958.23" y="306" font-size="13.85" fill="#000">AA9</text><text x="643.18" y="331" font-size="13.78" fill="#003080">IO_5C_AB 0/DIFFIO_TX_R9N/DIFFOUT_R 7N</text><path d="M763,0L583,0L583,1147C530,1097 440,1030 223,930L223,1104C420,1195 560,1310 643,1409L763,1409Z" transform="translate(709.05,331) scale(0.006729,-0.006729)" fill="#003080"/><path d="M763,0L583,0L583,1147C530,1097 440,1030 223,930L223,1104C420,1195 560,1310 643,1409L763,1409Z" transform="translate(915.02,331) scale(0.006729,-0.006729)" fill="#003080"/><text x="958.23" y="321" font-size="13.85" fill="#000">AB 0</text><path d="M763,0L583,0L583,1147C530,1097 440,1030 223,930L223,1104C420,1195 560,1310 643,1409L763,1409Z" transform="translate(976.71,321) scale(0.006763,-0.006763)" fill="#000"/><text x="644.28" y="346" font-size="13.78" fill="#003080">IO_5C_AB  /DIFFIO_TX_R9P/DIFFOUT_R 7P</text><path d="M763,0L583,0L583,1147C530,1097 440,1030 223,930L223,1104C420,1195 560,1310 643,1409L763,1409Z" transform="translate(710.16,346) scale(0.006729,-0.006729)" fill="#003080"/><path d="M763,0L583,0L583,1147C530,1097 440,1030 223,930L223,1104C420,1195 560,1310 643,1409L763,1409Z" transform="translate(717.82,346) scale(0.006729,-0.006729)" fill="#003080"/><path d="M763,0L583,0L583,1147C530,1097 440,1030 223,930L223,1104C420,1195 560,1310 643,1409L763,1409Z" transform="translate(915.36,346) scale(0.006729,-0.006729)" fill="#003080"/><text x="958.23" y="337" font-size="13.85" fill="#000">AB  </text><path d="M763,0L583,0L583,1147C530,1097 440,1030 223,930L223,1104C420,1195 560,1310 643,1409L763,1409Z" transform="translate(976.71,337) scale(0.006763,-0.006763)" fill="#000"/><path d="M763,0L583,0L583,1147C530,1097 440,1030 223,930L223,1104C420,1195 560,1310 643,1409L763,1409Z" transform="translate(984.41,337) scale(0.006763,-0.006763)" fill="#000"/><text x="600.67" y="361" font-size="13.78" fill="#003080">IO_5C_AB8/DQ7R/DIFFIO_RX_R 3P/DIFFOUT_R26P</text><path d="M763,0L583,0L583,1147C530,1097 440,1030 223,930L223,1104C420,1195 560,1310 643,1409L763,1409Z" transform="translate(809.73,361) scale(0.006729,-0.006729)" fill="#003080"/><text x="958.23" y="352" font-size="13.85" fill="#000">AB8</text><text x="601.08" y="376" font-size="13.78" fill="#003080">IO_5C_AB9/DQ5R/DIFFIO_TX_R 0N/DIFFOUT_R 9N</text><path d="M763,0L583,0L583,1147C530,1097 440,1030 223,930L223,1104C420,1195 560,1310 643,1409L763,1409Z" transform="translate(808.61,376) scale(0.006729,-0.006729)" fill="#003080"/><path d="M763,0L583,0L583,1147C530,1097 440,1030 223,930L223,1104C420,1195 560,1310 643,1409L763,1409Z" transform="translate(915.04,376) scale(0.006729,-0.006729)" fill="#003080"/><text x="958.23" y="367" font-size="13.85" fill="#000">AB9</text><text x="593.78" y="392" font-size="13.78" fill="#003080">IO_5C_AC 0/DQ5R/DIFFIO_TX_R 0P/DIFFOUT_R 9P</text><path d="M763,0L583,0L583,1147C530,1097 440,1030 223,930L223,1104C420,1195 560,1310 643,1409L763,1409Z" transform="translate(660.41,392) scale(0.006729,-0.006729)" fill="#003080"/><path d="M763,0L583,0L583,1147C530,1097 440,1030 223,930L223,1104C420,1195 560,1310 643,1409L763,1409Z" transform="translate(809.73,392) scale(0.006729,-0.006729)" fill="#003080"/><path d="M763,0L583,0L583,1147C530,1097 440,1030 223,930L223,1104C420,1195 560,1310 643,1409L763,1409Z" transform="translate(915.40,392) scale(0.006729,-0.006729)" fill="#003080"/><text x="958.23" y="382" font-size="13.85" fill="#000">AC 0</text><path d="M763,0L583,0L583,1147C530,1097 440,1030 223,930L223,1104C420,1195 560,1310 643,1409L763,1409Z" transform="translate(977.47,382) scale(0.006763,-0.006763)" fill="#000"/><text x="598.81" y="407" font-size="13.78" fill="#003080">IO_5C_AC7/DQ7R/DIFFIO_RX_R 3N/DIFFOUT_R26N</text><path d="M763,0L583,0L583,1147C530,1097 440,1030 223,930L223,1104C420,1195 560,1310 643,1409L763,1409Z" transform="translate(808.63,407) scale(0.006729,-0.006729)" fill="#003080"/><text x="958.23" y="398" font-size="13.85" fill="#000">AC7</text><text x="579.72" y="422" font-size="13.78" fill="#003080">IO_5C_AD6/DQSN6R/DIFFIO_RX_R  N/DIFFOUT_R22N</text><path d="M763,0L583,0L583,1147C530,1097 440,1030 223,930L223,1104C420,1195 560,1310 643,1409L763,1409Z" transform="translate(808.69,422) scale(0.006729,-0.006729)" fill="#003080"/><path d="M763,0L583,0L583,1147C530,1097 440,1030 223,930L223,1104C420,1195 560,1310 643,1409L763,1409Z" transform="translate(816.35,422) scale(0.006729,-0.006729)" fill="#003080"/><text x="958.23" y="413" font-size="13.85" fill="#000">AD6</text><text x="579.72" y="438" font-size="13.78" fill="#003080">IO_5C_AD8/DQSN7R/DIFFIO_RX_R 2N/DIFFOUT_R24N</text><path d="M763,0L583,0L583,1147C530,1097 440,1030 223,930L223,1104C420,1195 560,1310 643,1409L763,1409Z" transform="translate(808.69,438) scale(0.006729,-0.006729)" fill="#003080"/><text x="958.23" y="428" font-size="13.85" fill="#000">AD8</text><text x="590.75" y="453" font-size="13.78" fill="#003080">IO_5C_AD9/DQS7R/DIFFIO_RX_R 2P/DIFFOUT_R24P</text><path d="M763,0L583,0L583,1147C530,1097 440,1030 223,930L223,1104C420,1195 560,1310 643,1409L763,1409Z" transform="translate(809.76,453) scale(0.006729,-0.006729)" fill="#003080"/><text x="958.23" y="443" font-size="13.85" fill="#000">AD9</text><text x="588.13" y="468" font-size="13.78" fill="#003080">IO_5C_AE6/DQSN5R/DIFFIO_RX_R9N/DIFFOUT_R 8N</text><path d="M763,0L583,0L583,1147C530,1097 440,1030 223,930L223,1104C420,1195 560,1310 643,1409L763,1409Z" transform="translate(915.10,468) scale(0.006729,-0.006729)" fill="#003080"/><text x="958.23" y="459" font-size="13.85" fill="#000">AE6</text><text x="591.51" y="483" font-size="13.78" fill="#003080">IO_5C_AE7/DQS6R/DIFFIO_RX_R  P/DIFFOUT_R22P</text><path d="M763,0L583,0L583,1147C530,1097 440,1030 223,930L223,1104C420,1195 560,1310 643,1409L763,1409Z" transform="translate(809.76,483) scale(0.006729,-0.006729)" fill="#003080"/><path d="M763,0L583,0L583,1147C530,1097 440,1030 223,930L223,1104C420,1195 560,1310 643,1409L763,1409Z" transform="translate(817.42,483) scale(0.006729,-0.006729)" fill="#003080"/><text x="958.23" y="474" font-size="13.85" fill="#000">AE7</text><text x="601.43" y="499" font-size="13.78" fill="#003080">IO_5C_AF6/DQ5R/DIFFIO_RX_R 0P/DIFFOUT_R20P</text><path d="M763,0L583,0L583,1147C530,1097 440,1030 223,930L223,1104C420,1195 560,1310 643,1409L763,1409Z" transform="translate(809.72,499) scale(0.006729,-0.006729)" fill="#003080"/><text x="958.23" y="489" font-size="13.85" fill="#000">AF6</text><text x="599.91" y="514" font-size="13.78" fill="#003080">IO_5C_AF7/DQS5R/DIFFIO_RX_R9P/DIFFOUT_R 8P</text><path d="M763,0L583,0L583,1147C530,1097 440,1030 223,930L223,1104C420,1195 560,1310 643,1409L763,1409Z" transform="translate(915.39,514) scale(0.006729,-0.006729)" fill="#003080"/><text x="958.23" y="504" font-size="13.85" fill="#000">AF7</text><text x="597.98" y="529" font-size="13.78" fill="#003080">IO_5C_AG6/DQ5R/DIFFIO_RX_R 0N/DIFFOUT_R20N</text><path d="M763,0L583,0L583,1147C530,1097 440,1030 223,930L223,1104C420,1195 560,1310 643,1409L763,1409Z" transform="translate(808.57,529) scale(0.006729,-0.006729)" fill="#003080"/><text x="958.23" y="520" font-size="13.85" fill="#000">AG6</text><text x="644.70" y="544" font-size="13.78" fill="#003080">IO_5C_V 0/DIFFIO_TX_R 4N/DIFFOUT_R27N</text><path d="M763,0L583,0L583,1147C530,1097 440,1030 223,930L223,1104C420,1195 560,1310 643,1409L763,1409Z" transform="translate(701.38,544) scale(0.006729,-0.006729)" fill="#003080"/><path d="M763,0L583,0L583,1147C530,1097 440,1030 223,930L223,1104C420,1195 560,1310 643,1409L763,1409Z" transform="translate(808.58,544) scale(0.006729,-0.006729)" fill="#003080"/><text x="958.23" y="535" font-size="13.85" fill="#000">V 0</text><path d="M763,0L583,0L583,1147C530,1097 440,1030 223,930L223,1104C420,1195 560,1310 643,1409L763,1409Z" transform="translate(967.47,535) scale(0.006763,-0.006763)" fill="#000"/><text x="641.94" y="560" font-size="13.78" fill="#003080">IO_5C_W  /DIFFIO_TX_R 4P/DIFFOUT_R27P</text><path d="M763,0L583,0L583,1147C530,1097 440,1030 223,930L223,1104C420,1195 560,1310 643,1409L763,1409Z" transform="translate(702.44,560) scale(0.006729,-0.006729)" fill="#003080"/><path d="M763,0L583,0L583,1147C530,1097 440,1030 223,930L223,1104C420,1195 560,1310 643,1409L763,1409Z" transform="translate(710.10,560) scale(0.006729,-0.006729)" fill="#003080"/><path d="M763,0L583,0L583,1147C530,1097 440,1030 223,930L223,1104C420,1195 560,1310 643,1409L763,1409Z" transform="translate(809.64,560) scale(0.006729,-0.006729)" fill="#003080"/><text x="958.23" y="550" font-size="13.85" fill="#000">W  </text><path d="M763,0L583,0L583,1147C530,1097 440,1030 223,930L223,1104C420,1195 560,1310 643,1409L763,1409Z" transform="translate(971.30,550) scale(0.006763,-0.006763)" fill="#000"/><path d="M763,0L583,0L583,1147C530,1097 440,1030 223,930L223,1104C420,1195 560,1310 643,1409L763,1409Z" transform="translate(979.01,550) scale(0.006763,-0.006763)" fill="#000"/><text x="599.84" y="575" font-size="13.78" fill="#003080">IO_5C_W 2/DQ6R/DIFFIO_TX_R 2P/DIFFOUT_R23P</text><path d="M763,0L583,0L583,1147C530,1097 440,1030 223,930L223,1104C420,1195 560,1310 643,1409L763,1409Z" transform="translate(660.34,575) scale(0.006729,-0.006729)" fill="#003080"/><path d="M763,0L583,0L583,1147C530,1097 440,1030 223,930L223,1104C420,1195 560,1310 643,1409L763,1409Z" transform="translate(809.66,575) scale(0.006729,-0.006729)" fill="#003080"/><text x="958.23" y="565" font-size="13.85" fill="#000">W 2</text><path d="M763,0L583,0L583,1147C530,1097 440,1030 223,930L223,1104C420,1195 560,1310 643,1409L763,1409Z" transform="translate(971.30,565) scale(0.006763,-0.006763)" fill="#000"/><text x="602.60" y="590" font-size="13.78" fill="#003080">IO_5C_Y 0/DQ6R/DIFFIO_TX_R  N/DIFFOUT_R2 N</text><path d="M763,0L583,0L583,1147C530,1097 440,1030 223,930L223,1104C420,1195 560,1310 643,1409L763,1409Z" transform="translate(659.28,590) scale(0.006729,-0.006729)" fill="#003080"/><path d="M763,0L583,0L583,1147C530,1097 440,1030 223,930L223,1104C420,1195 560,1310 643,1409L763,1409Z" transform="translate(808.60,590) scale(0.006729,-0.006729)" fill="#003080"/><path d="M763,0L583,0L583,1147C530,1097 440,1030 223,930L223,1104C420,1195 560,1310 643,1409L763,1409Z" transform="translate(816.26,590) scale(0.006729,-0.006729)" fill="#003080"/><path d="M763,0L583,0L583,1147C530,1097 440,1030 223,930L223,1104C420,1195 560,1310 643,1409L763,1409Z" transform="translate(922.69,590) scale(0.006729,-0.006729)" fill="#003080"/><text x="957.95" y="581" font-size="13.85" fill="#000">Y 0</text><path d="M763,0L583,0L583,1147C530,1097 440,1030 223,930L223,1104C420,1195 560,1310 643,1409L763,1409Z" transform="translate(967.19,581) scale(0.006763,-0.006763)" fill="#000"/><text x="602.60" y="605" font-size="13.78" fill="#003080">IO_5C_Y 2/DQ6R/DIFFIO_TX_R 2N/DIFFOUT_R23N</text><path d="M763,0L583,0L583,1147C530,1097 440,1030 223,930L223,1104C420,1195 560,1310 643,1409L763,1409Z" transform="translate(659.28,605) scale(0.006729,-0.006729)" fill="#003080"/><path d="M763,0L583,0L583,1147C530,1097 440,1030 223,930L223,1104C420,1195 560,1310 643,1409L763,1409Z" transform="translate(808.60,605) scale(0.006729,-0.006729)" fill="#003080"/><text x="957.95" y="596" font-size="13.85" fill="#000">Y 2</text><path d="M763,0L583,0L583,1147C530,1097 440,1030 223,930L223,1104C420,1195 560,1310 643,1409L763,1409Z" transform="translate(967.19,596) scale(0.006763,-0.006763)" fill="#000"/>
</svg></body></html>
